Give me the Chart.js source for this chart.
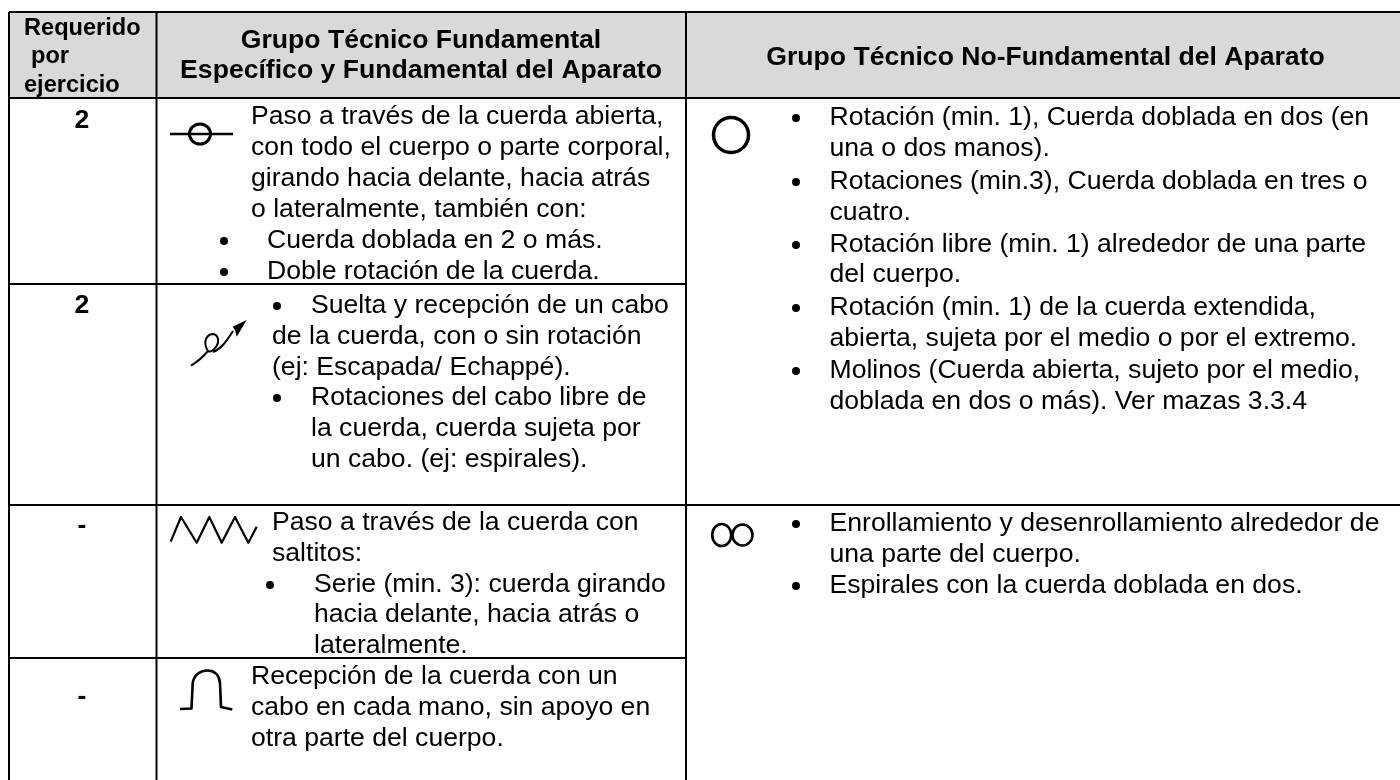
<!DOCTYPE html>
<html lang="es"><head><meta charset="utf-8">
<style>html,body{margin:0;padding:0;background:#fff}#w{position:absolute;left:0;top:0;width:1400px;height:780px}</style>
<script src="https://cdn.jsdelivr.net/npm/chart.js@4"></script></head>
<body><div id="w"><canvas id="c" width="1400" height="780"></canvas></div>
<script>
const columnEdges=[9,156.5,686];
const rowEdges=[12,98,284,505,658];
const headerReq=["Requerido"," por","ejercicio"];
const headerFund=["Grupo Técnico Fundamental","Específico y Fundamental del Aparato"];
const headerNon=["Grupo Técnico No-Fundamental del Aparato"];
const required=["2","2","-","-"];
const requiredY=[128,313,533,704];
const bodyFund=[
 ["Paso a través de la cuerda abierta,",251,124,0],
 ["con todo el cuerpo o parte corporal,",251,155,0],
 ["girando hacia delante, hacia atrás",251,186,0],
 ["o lateralmente, también con:",251,217,0],
 ["Cuerda doblada en 2 o más.",267,248,224],
 ["Doble rotación de la cuerda.",267,279,224],
 ["Suelta y recepción de un cabo",311,313,277],
 ["de la cuerda, con o sin rotación",272,344,0],
 ["(ej: Escapada/ Echappé).",272,375,0],
 ["Rotaciones del cabo libre de",311,405,277],
 ["la cuerda, cuerda sujeta por",311,436,0],
 ["un cabo. (ej: espirales).",311,467,0],
 ["Paso a través de la cuerda con",272,530,0],
 ["saltitos:",272,561,0],
 ["Serie (min. 3): cuerda girando",314,592,270],
 ["hacia delante, hacia atrás o",314,622,0],
 ["lateralmente.",314,653,0],
 ["Recepción de la cuerda con un",251,684,0],
 ["cabo en cada mano, sin apoyo en",251,715,0],
 ["otra parte del cuerpo.",251,746,0]
];
const bodyNon=[
 ["Rotación (min. 1), Cuerda doblada en dos (en",829.5,125,796],
 ["una o dos manos).",829.5,156,0],
 ["Rotaciones (min.3), Cuerda doblada en tres o",829.5,189,796],
 ["cuatro.",829.5,220,0],
 ["Rotación libre (min. 1) alrededor de una parte",829.5,252,796],
 ["del cuerpo.",829.5,282,0],
 ["Rotación (min. 1) de la cuerda extendida,",829.5,315,796],
 ["abierta, sujeta por el medio o por el extremo.",829.5,346,0],
 ["Molinos (Cuerda abierta, sujeto por el medio,",829.5,378,796],
 ["doblada en dos o más). Ver mazas 3.3.4",829.5,409,0],
 ["Enrollamiento y desenrollamiento alrededor de",829.5,531,796],
 ["una parte del cuerpo.",829.5,562,0],
 ["Espirales con la cuerda doblada en dos.",829.5,593,796]
];
const BODY='26.6px "Liberation Sans"',HEAD='bold 26.6px "Liberation Sans"';
const tablePlugin={id:'table',
 beforeDatasetsDraw(ch){const {ctx,scales:{x,y}}=ch;
  ctx.save();ctx.fillStyle='#d9d9d9';
  ctx.fillRect(x.getPixelForValue(columnEdges[0]),y.getPixelForValue(rowEdges[0]),1400-x.getPixelForValue(columnEdges[0]),rowEdges[1]-rowEdges[0]);
  ctx.restore();},
 afterDatasetsDraw(ch){const {ctx,scales:{x,y}}=ch;const X=v=>x.getPixelForValue(v),Y=v=>y.getPixelForValue(v);
  ctx.save();ctx.fillStyle='#000';ctx.textBaseline='alphabetic';ctx.textAlign='left';
  ctx.font='bold 23.6px "Liberation Sans"';
  ctx.fillText(headerReq[0],X(24),Y(35));ctx.fillText(headerReq[1].trim(),X(31),Y(63));ctx.fillText(headerReq[2],X(24),Y(92));
  ctx.font=HEAD;ctx.textAlign='center';
  ctx.fillText(headerFund[0],X(421),Y(48));ctx.fillText(headerFund[1],X(421),Y(78));
  ctx.fillText(headerNon[0],X(1045.5),Y(65));
  required.forEach((r,i)=>ctx.fillText(r,X(82),Y(requiredY[i])));
  ctx.textAlign='left';ctx.font=BODY;
  [...bodyFund,...bodyNon].forEach(([t,tx,ty,bx])=>{
   ctx.fillText(t,X(tx),Y(ty));
   if(bx){ctx.beginPath();ctx.arc(X(bx),Y(ty-7),4,0,7);ctx.fill();}
  });
  // technical glyphs
  ctx.strokeStyle='#000';ctx.lineJoin='round';
  const path=(w,pts)=>{ctx.lineWidth=w;ctx.beginPath();pts.forEach((p,i)=>i?ctx.lineTo(X(p[0]),Y(p[1])):ctx.moveTo(X(p[0]),Y(p[1])));ctx.stroke();};
  path(2.5,[[170,134],[233,134]]);
  ctx.lineWidth=3;ctx.beginPath();ctx.ellipse(X(200),Y(134),10.5,10,0,0,7);ctx.stroke();
  // free-end glyph: tail, loop, arrow
  ctx.lineWidth=2;ctx.beginPath();ctx.moveTo(X(191),Y(365.7));
  ctx.bezierCurveTo(X(197),Y(362),X(203),Y(357),X(208),Y(351));
  ctx.bezierCurveTo(X(204),Y(345),X(204),Y(336),X(212),Y(334));
  ctx.bezierCurveTo(X(219),Y(334),X(220),Y(343),X(215),Y(348));
  ctx.bezierCurveTo(X(212),Y(352),X(209),Y(352),X(208),Y(351));
  ctx.moveTo(X(213),Y(352));
  ctx.bezierCurveTo(X(221),Y(349),X(226),Y(342),X(233),Y(331));
  ctx.stroke();
  ctx.beginPath();ctx.moveTo(X(246.7),Y(320));ctx.lineTo(X(232.7),Y(326.7));ctx.lineTo(X(235),Y(330));ctx.lineTo(X(236.7),Y(336.7));ctx.closePath();ctx.fill();
  path(2.2,[[170.7,541.7],[181,517],[196.7,542.7],[209.3,517],[221.7,542.7],[235,517],[248.3,542.7],[256.7,526.7]]);
  ctx.lineWidth=2.6;ctx.beginPath();ctx.moveTo(X(180),Y(709));ctx.lineTo(X(191.5),Y(708.5));ctx.lineTo(X(192.7),Y(683));ctx.bezierCurveTo(X(194),Y(675),X(200),Y(670.5),X(207.3),Y(670.5));ctx.bezierCurveTo(X(215),Y(670.5),X(219),Y(675),X(220),Y(683));ctx.lineTo(X(221),Y(707));ctx.lineTo(X(232.3),Y(709.5));ctx.stroke();
  ctx.lineWidth=3.5;ctx.beginPath();ctx.arc(X(731),Y(135),17.5,0,7);ctx.stroke();
  ctx.lineWidth=2.6;ctx.beginPath();ctx.ellipse(X(721.7),Y(535),9.5,11,0,0,7);ctx.stroke();ctx.beginPath();ctx.ellipse(X(742.5),Y(535),10,10.5,0,0,7);ctx.stroke();
  ctx.restore();}
};
const seg=(a,b)=>({data:[a,b],borderColor:'#000',borderWidth:2,pointRadius:0,showLine:true,fill:false,tension:0,clip:false});
const bottom=780;
const rules=[
 seg({x:columnEdges[0],y:rowEdges[0]},{x:1400,y:rowEdges[0]}),
 seg({x:columnEdges[0],y:rowEdges[1]},{x:1400,y:rowEdges[1]}),
 seg({x:columnEdges[0],y:rowEdges[2]},{x:columnEdges[2],y:rowEdges[2]}),
 seg({x:columnEdges[0],y:rowEdges[3]},{x:1400,y:rowEdges[3]}),
 seg({x:columnEdges[0],y:rowEdges[4]},{x:columnEdges[2],y:rowEdges[4]}),
 ...columnEdges.map(c=>seg({x:c,y:rowEdges[0]},{x:c,y:bottom}))
];
new Chart(document.getElementById('c'),{type:'scatter',data:{datasets:rules},plugins:[tablePlugin],options:{
 responsive:false,animation:false,layout:{padding:0},
 plugins:{legend:{display:false},tooltip:{enabled:false},title:{display:false}},
 scales:{x:{type:'linear',min:0,max:1400,display:false},y:{type:'linear',min:0,max:780,reverse:true,display:false}}
}});
</script></body></html>
